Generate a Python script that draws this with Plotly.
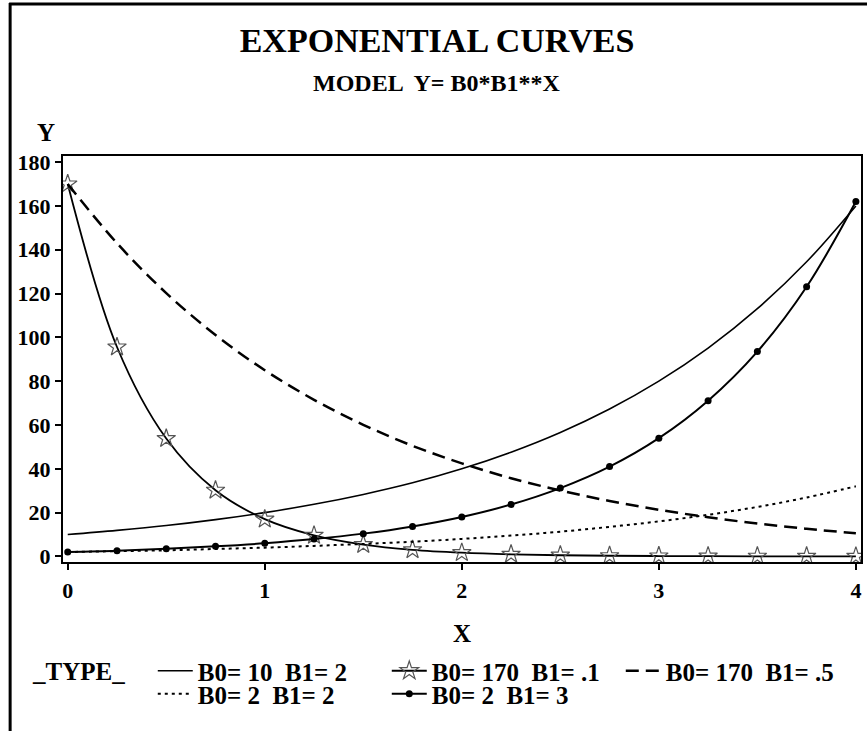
import plotly.graph_objects as go

# ---- data ----
x_vals = [0, 0.25, 0.5, 0.75, 1, 1.25, 1.5, 1.75, 2, 2.25, 2.5, 2.75, 3, 3.25, 3.5, 3.75, 4]
y_b10_b2 = [10, 11.9, 14.1, 16.8, 20, 23.8, 28.3, 33.6, 40, 47.6, 56.6, 67.3, 80, 95.1, 113.1, 134.5, 160]
y_b170_b01 = [170, 95.6, 53.8, 30.2, 17, 9.6, 5.4, 3.0, 1.7, 0.96, 0.54, 0.30, 0.17, 0.10, 0.05, 0.03, 0.02]
y_b170_b05 = [170, 143.0, 120.2, 101.1, 85, 71.5, 60.1, 50.5, 42.5, 35.7, 30.1, 25.3, 21.3, 17.9, 15.0, 12.6, 10.6]
y_b2_b2 = [2, 2.4, 2.8, 3.4, 4, 4.8, 5.7, 6.7, 8, 9.5, 11.3, 13.5, 16, 19.0, 22.6, 26.9, 32]
y_b2_b3 = [2, 2.6, 3.5, 4.6, 6, 7.9, 10.4, 13.7, 18, 23.7, 31.2, 41.0, 54, 71.1, 93.5, 123.1, 162]

series_names = ["B0= 10  B1= 2", "B0= 170  B1= .1", "B0= 170  B1= .5",
                "B0= 2  B1= 2", "B0= 2  B1= 3"]
x_ticks = [0, 1, 2, 3, 4]
y_ticks = [0, 20, 40, 60, 80, 100, 120, 140, 160, 180]

FONT = "Liberation Serif"
W, H = 867, 731
ML, MR, MT, MB = 63, 4, 156, 169

fig = go.Figure()

fig.add_trace(go.Scatter(x=x_vals, y=y_b10_b2, name=series_names[0], mode="lines",
                         line=dict(color="black", width=1.6, shape="spline"),
                         legend="legend"))
fig.add_trace(go.Scatter(x=x_vals, y=y_b170_b01, name=series_names[1], mode="lines+markers",
                         line=dict(color="black", width=1.8, shape="spline"),
                         marker=dict(symbol="star-open", size=14, color="#555555",
                                     line=dict(width=1.2, color="#555555")),
                         legend="legend"))
fig.add_trace(go.Scatter(x=x_vals, y=y_b170_b05, name=series_names[2], mode="lines",
                         line=dict(color="black", width=2.5, dash="13px,7px", shape="spline"),
                         legend="legend"))
fig.add_trace(go.Scatter(x=x_vals, y=y_b2_b2, name=series_names[3], mode="lines",
                         line=dict(color="black", width=2, dash="3px,4px", shape="spline"),
                         legend="legend2"))
fig.add_trace(go.Scatter(x=x_vals, y=y_b2_b3, name=series_names[4], mode="lines+markers",
                         line=dict(color="black", width=2, shape="spline"),
                         marker=dict(symbol="circle", size=7, color="black"),
                         legend="legend2"))

def px_x(p):
    return (p - ML) / (W - ML - MR)

def px_y(p):
    return (H - MB - p) / (H - MT - MB)

tick_font = dict(family=FONT, size=22, color="black", weight="bold")
leg_font = dict(family=FONT, size=25, color="black", weight="bold")

fig.update_layout(
    width=W, height=H,
    margin=dict(l=ML, r=MR, t=MT, b=MB),
    paper_bgcolor="white", plot_bgcolor="white",
    font=dict(family=FONT, color="black"),
    title=dict(text="EXPONENTIAL CURVES", x=437 / W, xref="container", xanchor="center",
               y=1 - 40 / H, yanchor="middle",
               font=dict(family=FONT, size=34, color="black", weight="bold")),
    xaxis=dict(range=[-0.024, 4.026], tickvals=x_ticks, ticks="outside", ticklen=6,
               tickwidth=1.5, tickcolor="black", showline=True, linecolor="black",
               linewidth=2, mirror=True, showgrid=False, zeroline=False,
               tickfont=tick_font, ticklabelstandoff=2, ticklabeloverflow="allow"),
    yaxis=dict(range=[-2.55, 182.8], tickvals=y_ticks, ticks="outside", ticklen=6,
               tickwidth=1.5, tickcolor="black", showline=True, linecolor="black",
               linewidth=2, mirror=True, showgrid=False, zeroline=False,
               tickfont=tick_font, ticklabeloverflow="allow"),
    legend=dict(orientation="h", x=px_x(153), xanchor="left", y=px_y(648), yanchor="top",
                font=leg_font, entrywidth=184, entrywidthmode="pixels", itemwidth=35,
                bgcolor="rgba(0,0,0,0)", tracegroupgap=0),
    legend2=dict(orientation="h", x=px_x(153), xanchor="left", y=px_y(671), yanchor="top",
                 font=leg_font, entrywidth=184, entrywidthmode="pixels", itemwidth=35,
                 bgcolor="rgba(0,0,0,0)", tracegroupgap=0),
    showlegend=True,
)

fig.add_annotation(text="MODEL  Y= B0*B1**X", xref="paper", yref="paper",
                   x=px_x(437), y=px_y(83), xanchor="center", yanchor="middle", showarrow=False,
                   font=dict(family=FONT, size=24, color="black", weight="bold"))
fig.add_annotation(text="Y", xref="paper", yref="paper",
                   x=px_x(46), y=px_y(132), xanchor="center", yanchor="middle", showarrow=False,
                   font=dict(family=FONT, size=25, color="black", weight="bold"))
fig.add_annotation(text="X", xref="paper", yref="paper",
                   x=0.5, y=px_y(633), xanchor="center", yanchor="middle", showarrow=False,
                   font=dict(family=FONT, size=25, color="black", weight="bold"))
fig.add_annotation(text="_TYPE_", xref="paper", yref="paper",
                   x=px_x(30), y=px_y(671), xanchor="left", yanchor="middle", showarrow=False,
                   font=leg_font)

# outer page frame (left and top edges)
fig.add_shape(type="line", xref="paper", yref="paper", x0=px_x(10), x1=px_x(10),
              y0=px_y(3), y1=px_y(H + 5), line=dict(color="black", width=3))
fig.add_shape(type="line", xref="paper", yref="paper", x0=px_x(9), x1=px_x(W + 5),
              y0=px_y(4), y1=px_y(4), line=dict(color="black", width=3))

fig.write_html("out.html", config={"displayModeBar": False},
               post_script="document.body.style.margin='0px';document.body.style.overflow='hidden';")
